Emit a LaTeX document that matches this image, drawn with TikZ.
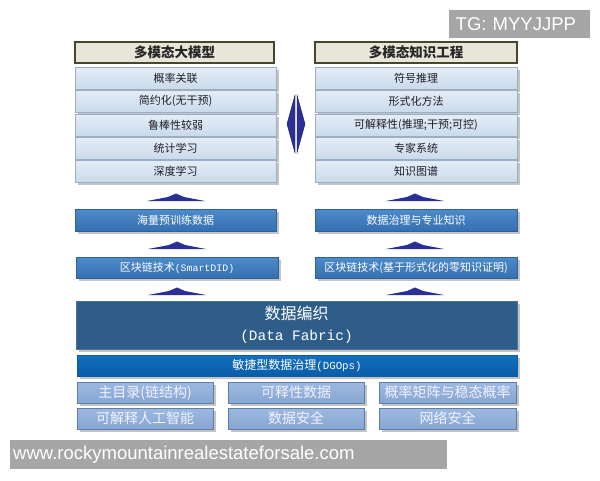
\documentclass[tikz,border=0pt]{standalone}
\usepackage{fontspec}
\newfontfamily\cjk{Noto Sans CJK SC}
\newfontfamily\mono[Scale=0.9]{Liberation Mono}
\newfontfamily\wmfont{Liberation Sans}
\usetikzlibrary{shadows}
\definecolor{rowtop}{HTML}{E4EDF7}
\definecolor{rowbot}{HTML}{CBDAEA}
\definecolor{rowline}{HTML}{9AAFC6}
\definecolor{rowtext}{HTML}{1E1E2A}
\definecolor{titlefill}{HTML}{E8E6D9}
\definecolor{titleline}{HTML}{47462C}
\definecolor{bluetop}{HTML}{4D8BCA}
\definecolor{bluebot}{HTML}{3670B1}
\definecolor{blueline}{HTML}{2F6098}
\definecolor{dffill}{HTML}{2F5D8A}
\definecolor{dfline}{HTML}{4A7299}
\definecolor{dgtop}{HTML}{1470BE}
\definecolor{dgbot}{HTML}{0A5CA8}
\definecolor{smtop}{HTML}{9CB9E0}
\definecolor{smbot}{HTML}{86A6D2}
\definecolor{smline}{HTML}{5E7FAE}
\definecolor{arrowfill}{HTML}{2C2F94}
\definecolor{arrowdark}{HTML}{1C1C6E}
\definecolor{shadowgrey}{HTML}{C4C4C4}
\definecolor{wmgrey}{HTML}{A6A6A6}
\tikzset{
  base/.style={anchor=north west, inner sep=0pt, outer sep=0pt, align=center},
  shad/.style={drop shadow={shadow xshift=3pt, shadow yshift=-3pt, fill=shadowgrey, opacity=1}},
  titlebox/.style={base, fill=titlefill, draw=titleline, line width=1.6pt, minimum height=21pt,
    text=black!85, font=\cjk\bfseries\fontsize{13.5}{14}\selectfont},
  rowbox/.style={base, shad, top color=rowtop, bottom color=rowbot, draw=rowline, line width=0.6pt,
    minimum height=22pt, text=rowtext, font=\cjk\fontsize{11}{12}\selectfont},
  bluebox/.style={base, shad, top color=bluetop, bottom color=bluebot, draw=blueline, line width=0.6pt,
    minimum height=22pt, text=white, font=\cjk\fontsize{11}{12}\selectfont},
  dfbox/.style={base, shad, fill=dffill, draw=dfline, line width=0.8pt, text=white,
    font=\cjk\fontsize{16}{21}\selectfont},
  dgbox/.style={base, shad, top color=dgtop, bottom color=dgbot, draw=dgbot, line width=0.6pt,
    minimum height=21pt, text=white, font=\cjk\fontsize{12}{13}\selectfont},
  smallbox/.style={base, shad, top color=smtop, bottom color=smbot, draw=smline, line width=0.8pt,
    minimum width=136pt, minimum height=21pt, text=white!95!blue, font=\cjk\fontsize{14}{15}\selectfont},
  wmbox/.style={anchor=north west, inner sep=0pt, fill=wmgrey, text=white, font=\wmfont\fontsize{18.5}{20}\selectfont},
  uparrow/.pic={\fill[arrowfill] (-29,0) -- (-8,-4) -- (0,-7.5) -- (8,-4) -- (29,0) -- cycle;}
}
\begin{document}
\begin{tikzpicture}[x=1pt,y=-1pt]
\useasboundingbox (0,0) rectangle (600,480);
\fill[white] (0,0) rectangle (600,480);

% left column
\node[titlebox, minimum width=199pt] (lt) at (75,42) {多模态大模型};
\node[rowbox, minimum width=201pt] (l1) at (75,67) {概率关联};
\node[rowbox, minimum width=201pt] (l2) at (75,90) {简约化(无干预)};
\node[rowbox, minimum width=201pt] (l3) at (75,114) {鲁棒性较弱};
\node[rowbox, minimum width=201pt] (l4) at (75,137) {统计学习};
\node[rowbox, minimum width=201pt] (l5) at (75,160) {深度学习};

% right column
\node[titlebox, minimum width=202pt] (rt) at (315,42) {多模态知识工程};
\node[rowbox, minimum width=202pt] (r1) at (315,67) {符号推理};
\node[rowbox, minimum width=202pt] (r2) at (315,90) {形式化方法};
\node[rowbox, minimum width=202pt] (r3) at (315,114) {可解释性(推理;干预;可控)};
\node[rowbox, minimum width=202pt] (r4) at (315,137) {专家系统};
\node[rowbox, minimum width=202pt] (r5) at (315,160) {知识图谱};

% double arrow between columns
\fill[arrowfill, draw=arrowdark, line width=0.4pt] (295,95) -- (287,124) -- (295,153) -- cycle;
\fill[arrowfill, draw=arrowdark, line width=0.4pt] (297,95) -- (305,124) -- (297,153) -- cycle;

% middle blue boxes
\node[bluebox, minimum width=201pt] (lm1) at (75,209) {海量预训练数据};
\node[bluebox, minimum width=202pt] (rm1) at (315,209) {数据治理与专业知识};
\node[bluebox, minimum width=202pt, minimum height=21pt] (lm2) at (76,257) {区块链技术{\mono(SmartDID)}};
\node[bluebox, minimum width=202pt, minimum height=21pt] (rm2) at (315,257) {区块链技术(基于形式化的零知识证明)};

% up arrows
\pic at (176,201) {uparrow};
\pic at (415,201) {uparrow};
\pic at (177,249) {uparrow};
\pic at (415,249) {uparrow};
\pic at (177,295) {uparrow};
\pic at (415,295) {uparrow};

% data fabric
\node[dfbox, minimum width=441pt, minimum height=48pt] (df) at (76,301)
  {数据编织\\{\mono (Data Fabric)}};
\node[dgbox, minimum width=440pt] (dg) at (77,355) {敏捷型数据治理{\mono(DGOps)}};

% bottom small boxes
\node[smallbox] (b11) at (77,382) {主目录(链结构)};
\node[smallbox] (b12) at (228,382) {可释性数据};
\node[smallbox, minimum width=137pt] (b13) at (379,382) {概率矩阵与稳态概率};
\node[smallbox] (b21) at (77,408) {可解释人工智能};
\node[smallbox] (b22) at (228,408) {数据安全};
\node[smallbox, minimum width=137pt] (b23) at (379,408) {网络安全};

% watermarks
\node[wmbox, minimum width=141pt, minimum height=28pt, text width=134pt, align=left] (tg) at (449,10) {\hspace*{3pt}TG: MYYJJPP};
\node[wmbox, minimum width=437pt, minimum height=29pt, text width=431pt, align=left] (www) at (10,440) {www.rockymountainrealestateforsale.com};
\end{tikzpicture}
\end{document}
